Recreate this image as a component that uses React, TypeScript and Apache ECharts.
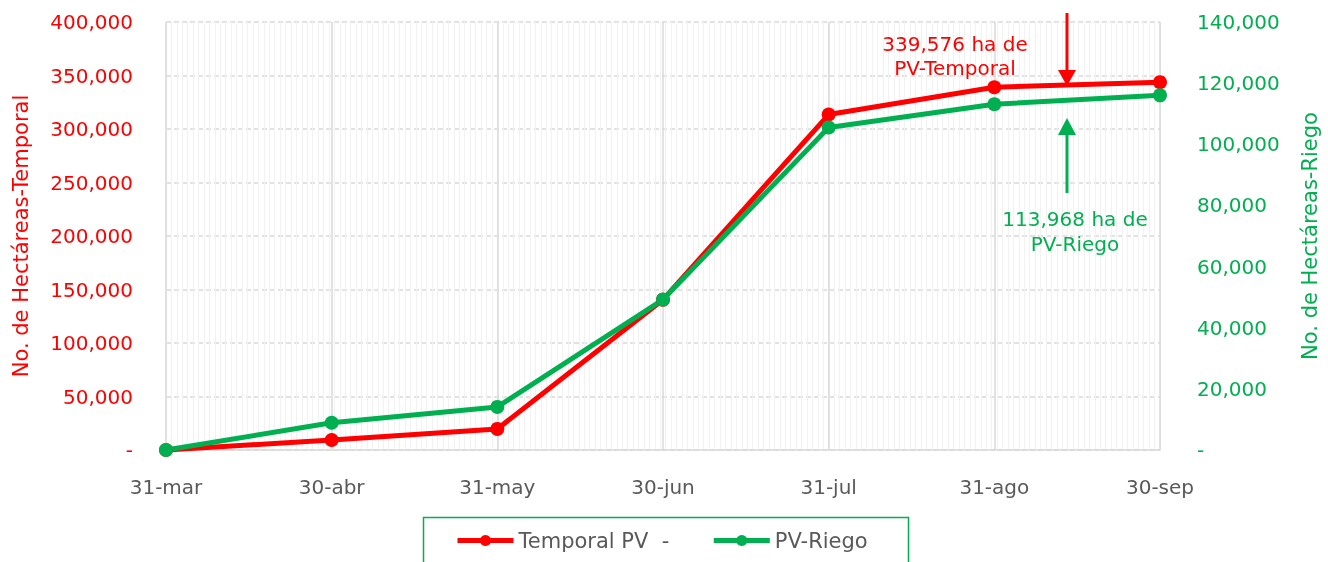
import React, { useEffect, useRef } from "react";
import * as echarts from "echarts";

const categories = ["31-mar", "30-abr", "31-may", "30-jun", "31-jul", "31-ago", "30-sep"];
const temporalValues = [0, 9400, 19700, 140500, 313500, 339000, 343800];
const riegoValues = [0, 8900, 14100, 49200, 105500, 113100, 116000];
const leftTicks = { min: 0, max: 400000, interval: 50000 };
const rightTicks = { min: 0, max: 140000, interval: 20000 };
const totalDays = 183;

const RED = "#ff0000";
const GREEN = "#00b050";
const FONT = "DejaVu Sans";

const fmt = (v: number) => (v === 0 ? "-" : v.toLocaleString("en-US"));

export default function App() {
  const ref = useRef<HTMLDivElement>(null);
  useEffect(() => {
    if (!ref.current) return;
    const chart = echarts.init(ref.current, undefined, { renderer: "svg" });
    chart.setOption({
      animation: false,
      textStyle: { fontFamily: FONT },
      grid: { left: 166, right: 163, top: 22, bottom: 112, containLabel: false },
      xAxis: [
        {
          type: "value",
          min: 0,
          max: totalDays,
          interval: 1,
          position: "top",
          axisLabel: { show: false },
          axisLine: { show: false },
          axisTick: { show: false },
          splitLine: { show: true, lineStyle: { color: "#f2f2f2", width: 1 } },
        },
        {
          type: "category",
          data: categories,
          boundaryGap: false,
          position: "bottom",
          axisLine: { show: true, lineStyle: { color: "#d9d9d9", width: 1.5 } },
          axisTick: { show: false },
          axisLabel: { color: "#595959", fontSize: 20, margin: 27, fontFamily: FONT },
          splitLine: { show: true, lineStyle: { color: "#d9d9d9", width: 1.5 } },
        },
      ],
      yAxis: [
        {
          type: "value",
          position: "left",
          ...leftTicks,
          name: "No. de Hectáreas-Temporal",
          nameLocation: "middle",
          nameRotate: 90,
          nameGap: 135,
          nameTextStyle: { color: RED, fontSize: 21, fontFamily: FONT },
          axisLine: { show: false },
          axisTick: { show: false },
          axisLabel: { color: RED, fontSize: 20, margin: 33, formatter: fmt, fontFamily: FONT },
          splitLine: { show: true, lineStyle: { color: "#d9d9d9", type: [5, 3], width: 1.5 } },
        },
        {
          type: "value",
          position: "right",
          ...rightTicks,
          name: "No. de Hectáreas-Riego",
          nameLocation: "middle",
          nameRotate: 90,
          nameGap: 139,
          nameTextStyle: { color: GREEN, fontSize: 21, fontFamily: FONT },
          axisLine: { show: false },
          axisTick: { show: false },
          axisLabel: { color: GREEN, fontSize: 20, margin: 37, formatter: fmt, fontFamily: FONT },
          splitLine: { show: false },
        },
      ],
      legend: {
        left: 455,
        top: 530,
        padding: 0,
        itemGap: 42,
        itemWidth: 56,
        itemHeight: 14,
        lineStyle: { width: 5 },
        textStyle: { color: "#595959", fontSize: 21, fontFamily: FONT },
        data: ["Temporal PV  -", "PV-Riego"],
      },
      series: [
        {
          name: "Temporal PV  -",
          type: "line",
          xAxisIndex: 1,
          yAxisIndex: 0,
          data: temporalValues,
          symbol: "circle",
          symbolSize: 14,
          itemStyle: { color: RED },
          lineStyle: { color: RED, width: 5 },
        },
        {
          name: "PV-Riego",
          type: "line",
          xAxisIndex: 1,
          yAxisIndex: 1,
          data: riegoValues,
          symbol: "circle",
          symbolSize: 14,
          itemStyle: { color: GREEN },
          lineStyle: { color: GREEN, width: 5 },
        },
      ],
      graphic: [
        {
          type: "rect",
          shape: { x: 423.5, y: 517.5, width: 485, height: 70 },
          style: { fill: "none", stroke: GREEN, lineWidth: 1.5 },
          z: 10,
        },
        {
          type: "text",
          x: 955,
          y: 32,
          z: 10,
          style: {
            text: "339,576 ha de\nPV-Temporal",
            fill: RED,
            fontSize: 20,
            fontFamily: FONT,
            align: "center",
            verticalAlign: "top",
            lineHeight: 24,
          },
        },
        {
          type: "line",
          z: 10,
          shape: { x1: 1067, y1: 13, x2: 1067, y2: 72 },
          style: { stroke: RED, lineWidth: 3 },
        },
        {
          type: "polygon",
          z: 10,
          shape: { points: [[1058, 70], [1076, 70], [1067, 86]] },
          style: { fill: RED },
        },
        {
          type: "line",
          z: 10,
          shape: { x1: 1067, y1: 132, x2: 1067, y2: 193 },
          style: { stroke: GREEN, lineWidth: 3 },
        },
        {
          type: "polygon",
          z: 10,
          shape: { points: [[1058, 135], [1076, 135], [1067, 118]] },
          style: { fill: GREEN },
        },
        {
          type: "text",
          x: 1075,
          y: 206,
          z: 10,
          style: {
            text: "113,968 ha de\nPV-Riego",
            fill: GREEN,
            fontSize: 20,
            fontFamily: FONT,
            align: "center",
            verticalAlign: "top",
            lineHeight: 25,
          },
        },
      ],
    });
    return () => chart.dispose();
  }, []);
  return (
    <div
      ref={ref}
      style={{ position: "fixed", left: 0, top: 0, width: 1328, height: 562 }}
    />
  );
}
